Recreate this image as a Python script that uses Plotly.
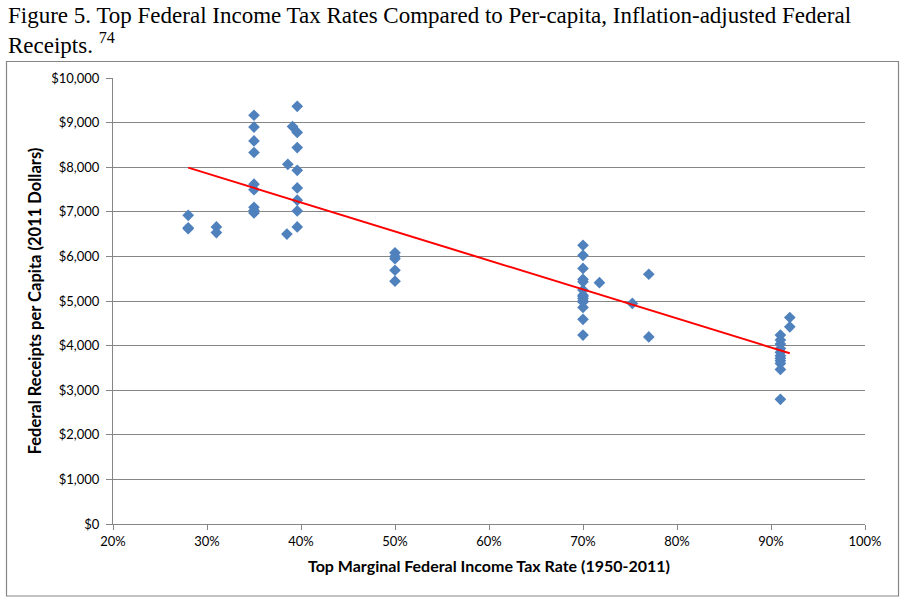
import plotly.graph_objects as go
import numpy as np

# top marginal rate (%) and per-capita receipts (2011 $)
rate = [28, 28, 28, 31, 31,
        35, 35, 35, 35, 35, 35, 35, 35, 35,
        38.5, 38.6, 39.1,
        39.6, 39.6, 39.6, 39.6, 39.6, 39.6, 39.6, 39.6,
        50, 50, 50, 50, 50,
        70, 70, 70, 70, 70, 70, 70, 70, 70, 70, 70, 70, 70, 70,
        71.75, 75.25, 77, 77,
        91, 91, 91, 91, 91, 91, 91, 91, 91, 91, 91,
        92, 92]
receipts = [6920, 6640, 6620, 6660, 6535,
            9165, 8900, 8590, 8330, 7620, 7495, 7100, 7030, 6975,
            6500, 8065, 8910,
            9365, 8780, 8440, 7930, 7535, 7260, 7020, 6660,
            6080, 6000, 5950, 5690, 5445,
            6250, 6025, 5730, 5485, 5430, 5245, 5130, 5100, 5055, 5000, 4980, 4855, 4590, 4235,
            5410, 4945, 5600, 4195,
            4235, 4125, 4035, 3935, 3850, 3770, 3715, 3660, 3600, 3465, 2795,
            4630, 4420]

x_ticks = [20, 30, 40, 50, 60, 70, 80, 90, 100]
y_ticks = [0, 1000, 2000, 3000, 4000, 5000, 6000, 7000, 8000, 9000, 10000]
x_labels = ['%d%%' % v for v in x_ticks]
y_labels = ['${:,}'.format(v) for v in y_ticks]

# linear trendline over the data range (like the Excel trendline)
slope, icpt = np.polyfit(rate, receipts, 1)
fit_x = np.array([min(rate), max(rate)])
fit_y = slope * fit_x + icpt

fig = go.Figure()
fig.add_trace(go.Scatter(
    x=rate, y=receipts,
    mode='markers',
    marker=dict(symbol='diamond', size=9, color='#4F81BD'),
    showlegend=False
))
fig.add_trace(go.Scatter(
    x=fit_x, y=fit_y,
    mode='lines',
    line=dict(color='#FF0000', width=2),
    showlegend=False
))

grey = '#868686'
W, H = 904, 604
L, R, T, B = 113, 39, 78, 80
pw, ph = W - L - R, H - T - B

def px_x(p):
    return (p - L) / pw

def px_y(p):
    return (H - B - p) / ph

fig.update_layout(
    width=W, height=H,
    margin=dict(l=L, r=R, t=T, b=B),
    plot_bgcolor='white',
    paper_bgcolor='white',
    font=dict(family='Lato, Noto Sans, sans-serif', size=13, color='#000000'),
    xaxis=dict(
        range=[20, 100], tickmode='array', tickvals=x_ticks, ticktext=x_labels,
        showgrid=False, zeroline=False,
        showline=True, linecolor=grey, linewidth=1,
        ticks='outside', ticklen=5, tickcolor=grey,
        title=dict(text='<b>Top Marginal Federal Income Tax Rate (1950-2011)</b>',
                   font=dict(size=16), standoff=13)
    ),
    yaxis=dict(
        range=[0, 10000], tickmode='array', tickvals=y_ticks, ticktext=y_labels,
        showgrid=True, gridcolor=grey, gridwidth=1, zeroline=False,
        showline=True, linecolor=grey, linewidth=1,
        ticks='outside', ticklen=6, tickcolor=grey, ticklabelstandoff=4,
        title=dict(text='<b>Federal Receipts per Capita (2011 Dollars)</b>',
                   font=dict(size=16.5), standoff=5)
    ),
    annotations=[dict(
        text='Figure 5. Top Federal Income Tax Rates Compared to Per-capita, Inflation-adjusted Federal'
             '<br>Receipts. <sup>74</sup>',
        xref='paper', yref='paper', x=px_x(6), y=px_y(1),
        xanchor='left', yanchor='top', align='left', showarrow=False,
        font=dict(family='Liberation Serif, Times New Roman, serif', size=23, color='#000000')
    )],
    shapes=[dict(
        type='rect', xref='paper', yref='paper',
        x0=px_x(6.5), x1=px_x(898.5), y0=px_y(596), y1=px_y(61.5),
        line=dict(color=grey, width=1.2), fillcolor='rgba(0,0,0,0)', layer='below'
    )]
)

# drop the browser's default 8px body margin so the figure sits at the window corner
fig.write_html("out.html", config={'displayModeBar': False},
               post_script="document.body.style.margin='0';")
